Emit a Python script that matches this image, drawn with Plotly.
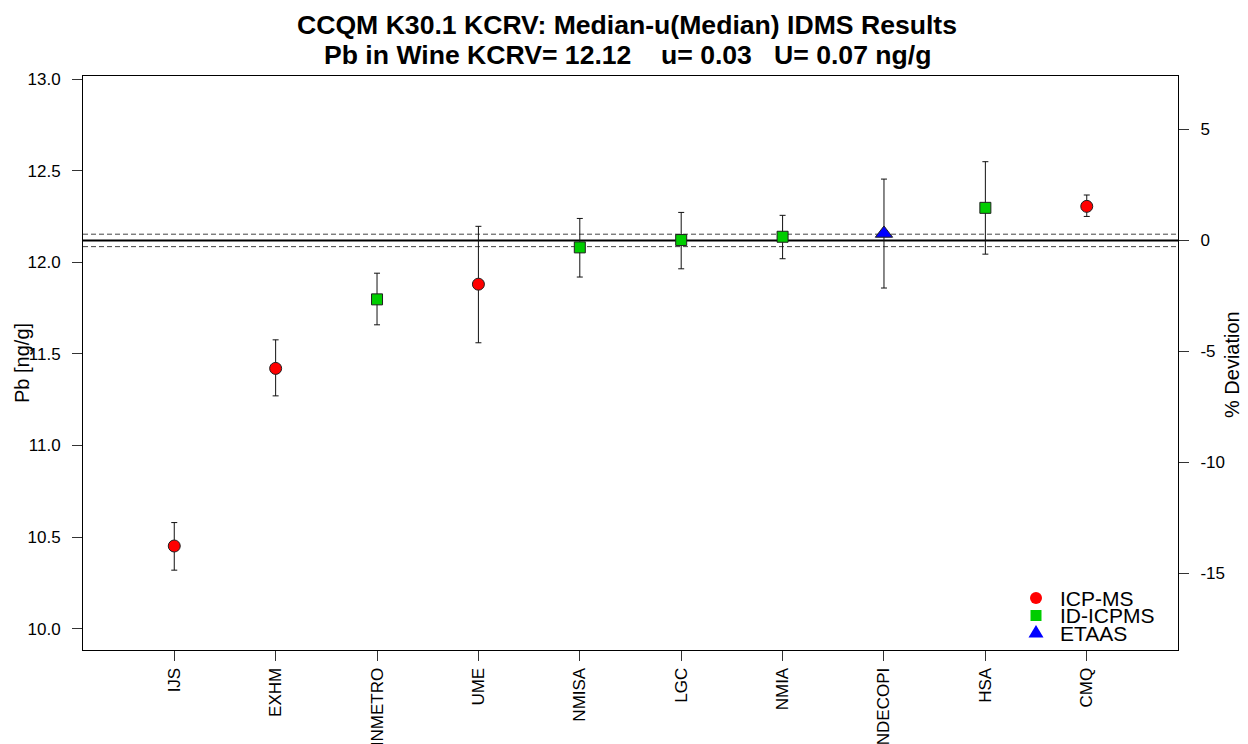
import plotly.graph_objects as go

# ---------------- data ----------------
labs = ["IJS", "EXHM", "INMETRO", "UME", "NMISA", "LGC", "NMIA", "INDECOPI", "HSA", "CMQ"]
values = [10.451, 11.421, 11.798, 11.881, 12.082, 12.122, 12.140, 12.158, 12.298, 12.306]
upper = [10.579, 11.577, 11.941, 12.197, 12.240, 12.273, 12.257, 12.455, 12.550, 12.368]
lower = [10.319, 11.271, 11.659, 11.561, 11.920, 11.965, 12.020, 11.860, 12.045, 12.251]
method = ["ICP-MS", "ICP-MS", "ID-ICPMS", "ICP-MS", "ID-ICPMS", "ID-ICPMS", "ID-ICPMS", "ETAAS", "ID-ICPMS", "ICP-MS"]
kcrv = 12.12
kcrv_u = 0.034
left_ticks = [10.0, 10.5, 11.0, 11.5, 12.0, 12.5, 13.0]
right_ticks = [-15, -10, -5, 0, 5]

styles = {
    "ICP-MS": dict(symbol="circle", color="#FF0000", size=12),
    "ID-ICPMS": dict(symbol="square", color="#00CD00", size=11),
    "ETAAS": dict(symbol="triangle-up", color="#0000FF", size=15),
}

FONT = "Liberation Sans, Arial, sans-serif"
W, H = 1248, 744
L, R, T, B = 83, 70, 76, 94
PW, PH = W - L - R, H - T - B

def px2paper_x(px):
    return (px - L) / PW

def px2paper_y(py):
    return (H - B - py) / PH

yr = [9.883, 13.018]
yr2 = [(v / kcrv - 1) * 100 for v in yr]
xpos = list(range(1, len(labs) + 1))

fig = go.Figure()
for m in ["ICP-MS", "ID-ICPMS", "ETAAS"]:
    idx = [i for i, mm in enumerate(method) if mm == m]
    st = styles[m]
    fig.add_trace(go.Scatter(
        x=[xpos[i] for i in idx],
        y=[values[i] for i in idx],
        mode="markers",
        name=m,
        marker=dict(symbol=st["symbol"], color=st["color"], size=st["size"],
                    line=dict(color="#202020", width=1)),
        error_y=dict(type="data", symmetric=False,
                     array=[upper[i] - values[i] for i in idx],
                     arrayminus=[values[i] - lower[i] for i in idx],
                     color="#111111", thickness=1, width=3),
        showlegend=False,
        cliponaxis=False,
    ))

# invisible trace on the % deviation axis
fig.add_trace(go.Scatter(
    x=xpos, y=[(v / kcrv - 1) * 100 for v in values], yaxis="y2",
    mode="markers", marker=dict(opacity=0), hoverinfo="skip", showlegend=False))

shapes = [
    dict(type="line", xref="paper", x0=0, x1=1, yref="y", y0=kcrv, y1=kcrv,
         line=dict(color="black", width=2), layer="below"),
    dict(type="line", xref="paper", x0=0, x1=1, yref="y", y0=kcrv + kcrv_u, y1=kcrv + kcrv_u,
         line=dict(color="#444444", width=1, dash="5px,3px"), layer="below"),
    dict(type="line", xref="paper", x0=0, x1=1, yref="y", y0=kcrv - kcrv_u, y1=kcrv - kcrv_u,
         line=dict(color="#444444", width=1, dash="5px,3px"), layer="below"),
]

# manual legend
leg_names = ["ICP-MS", "ID-ICPMS", "ETAAS"]
leg_rows = [598, 615.5, 633]
mx, tx = 1036, 1058
annotations = []
for name, ry in zip(leg_names, leg_rows):
    st = styles[name]
    xa, ya = px2paper_x(mx), px2paper_y(ry)
    if name == "ICP-MS":
        shapes.append(dict(type="circle", xref="paper", yref="paper", xsizemode="pixel", ysizemode="pixel",
                           xanchor=xa, yanchor=ya, x0=-6, x1=6, y0=-6, y1=6,
                           fillcolor=st["color"], line=dict(width=0)))
    elif name == "ID-ICPMS":
        shapes.append(dict(type="rect", xref="paper", yref="paper", xsizemode="pixel", ysizemode="pixel",
                           xanchor=xa, yanchor=ya, x0=-5.5, x1=5.5, y0=-5.5, y1=5.5,
                           fillcolor=st["color"], line=dict(width=0)))
    else:
        shapes.append(dict(type="path", xref="paper", yref="paper", xsizemode="pixel", ysizemode="pixel",
                           xanchor=xa, yanchor=ya, path="M-7.5,-4.5 L7.5,-4.5 L0,8 Z",
                           fillcolor=st["color"], line=dict(width=0)))
    annotations.append(dict(xref="paper", yref="paper", x=px2paper_x(tx), y=ya, text=name,
                            showarrow=False, xanchor="left", yanchor="middle",
                            font=dict(family=FONT, size=21, color="black")))

# titles
annotations.append(dict(xref="paper", yref="paper", x=px2paper_x(627), y=px2paper_y(25),
                        text="<b>CCQM K30.1 KCRV: Median-u(Median) IDMS Results</b>",
                        showarrow=False, xanchor="center", yanchor="middle",
                        font=dict(family=FONT, size=26.6, color="black")))
annotations.append(dict(xref="paper", yref="paper", x=px2paper_x(627), y=px2paper_y(55),
                        text="<b>Pb in Wine KCRV= 12.12    u= 0.03   U= 0.07 ng/g</b>",
                        showarrow=False, xanchor="center", yanchor="middle",
                        font=dict(family=FONT, size=26.6, color="black")))
annotations.append(dict(xref="paper", yref="paper", x=px2paper_x(22), y=px2paper_y(363),
                        text="Pb [ng/g]", textangle=-90, showarrow=False,
                        xanchor="center", yanchor="middle",
                        font=dict(family=FONT, size=20, color="black")))
annotations.append(dict(xref="paper", yref="paper", x=px2paper_x(1232), y=px2paper_y(365),
                        text="% Deviation", textangle=-90, showarrow=False,
                        xanchor="center", yanchor="middle",
                        font=dict(family=FONT, size=20, color="black")))

tickfont = dict(family=FONT, size=17, color="black")
fig.update_layout(
    width=W, height=H,
    margin=dict(l=L, r=R, t=T, b=B, autoexpand=False),
    paper_bgcolor="white", plot_bgcolor="white",
    showlegend=False,
    shapes=shapes, annotations=annotations,
    xaxis=dict(range=[0.1, 10.9], tickmode="array", tickvals=xpos, ticktext=labs,
               tickangle=-90, ticks="outside", ticklen=10, tickcolor="#333333",
               ticklabelstandoff=0,
               showline=True, linecolor="black", linewidth=1, mirror=True,
               showgrid=False, zeroline=False, tickfont=tickfont),
    yaxis=dict(range=yr, tickmode="array", tickvals=left_ticks,
               ticktext=[f"{v:.1f}" for v in left_ticks],
               ticks="outside", ticklen=10, tickcolor="#333333",
               ticklabelstandoff=8,
               showline=True, linecolor="black", linewidth=1, mirror=True,
               showgrid=False, zeroline=False, tickfont=tickfont),
    yaxis2=dict(range=yr2, overlaying="y", side="right", tickmode="array",
                tickvals=right_ticks, ticktext=[str(v) for v in right_ticks],
                ticks="outside", ticklen=10, tickcolor="#333333",
                ticklabelstandoff=8,
                showline=True, linecolor="black", linewidth=1,
                showgrid=False, zeroline=False, tickfont=tickfont),
)

fig.write_html("out.html", config={"displayModeBar": False},
               post_script="document.body.style.margin='0';")
